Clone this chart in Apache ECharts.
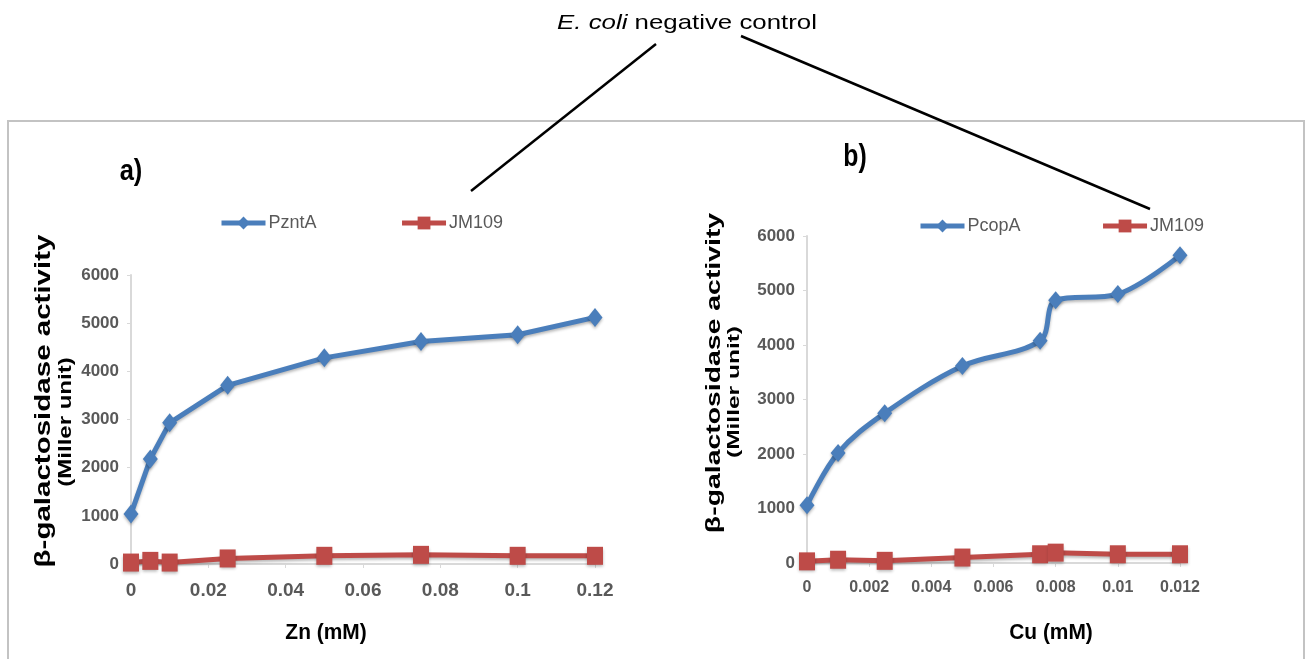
<!DOCTYPE html>
<html>
<head>
<meta charset="utf-8">
<script src="https://cdn.jsdelivr.net/npm/echarts@6/dist/echarts.min.js"></script>
<style>
  html, body { margin: 0; padding: 0; background: #ffffff; }
  #chart { width: 1311px; height: 659px; }
</style>
</head>
<body>
<div id="chart"></div>
<script>
// Zn series (panel a)
const znConc   = [0, 0.005, 0.01, 0.025, 0.05, 0.075, 0.1, 0.12];
const pzntA    = [1040, 2180, 2930, 3710, 4280, 4620, 4760, 5120];
const jm109Zn  = [30, 65, 30, 115, 170, 190, 170, 170];

// Cu series (panel b)
const cuConc   = [0, 0.001, 0.0025, 0.005, 0.0075, 0.008, 0.01, 0.012];
const pcopA    = [1060, 2020, 2750, 3615, 4080, 4820, 4935, 5645];
const jm109Cu  = [30, 60, 40, 100, 160, 190, 160, 160];

// Axis ranges / ticks
const yMax = 6000, yStep = 1000;
const znMax = 0.12, znStep = 0.02;
const cuMax = 0.012, cuStep = 0.002;

const pairs = (xs, ys) => xs.map((x, i) => [x, ys[i]]);

const BLUE = '#4A7EBB';
const RED = '#BE4B48';
const GREY = '#595959';
const AXIS = '#d9d9d9';
const SANS = '"Liberation Sans", Arial, sans-serif';

function xAxis(gridIndex, max, step, labelSize) {
  return {
    type: 'value', gridIndex, min: 0, max, interval: step,
    axisLine: { show: true, lineStyle: { color: AXIS, width: 2 } },
    axisTick: { show: true, length: 4, lineStyle: { color: AXIS, width: 1 } },
    splitLine: { show: false },
    axisLabel: { color: GREY, fontFamily: SANS, fontWeight: 'bold', fontSize: labelSize, margin: 17,
      formatter: v => String(+v.toFixed(4)) }
  };
}
function yAxis(gridIndex) {
  return {
    type: 'value', gridIndex, min: 0, max: yMax, interval: yStep,
    axisLine: { show: true, lineStyle: { color: AXIS, width: 2 } },
    axisTick: { show: true, length: 4, lineStyle: { color: AXIS, width: 1 } },
    splitLine: { show: false },
    axisLabel: { color: GREY, fontFamily: SANS, fontWeight: 'bold', fontSize: 17, margin: 12,
      formatter: v => String(v) }
  };
}
const shadow = { shadowColor: 'rgba(0,0,0,0.28)', shadowBlur: 3, shadowOffsetY: 2 };
function lineSeries(name, data, axisIdx, color, symbol, size, smooth) {
  return {
    name, type: 'line', xAxisIndex: axisIdx, yAxisIndex: axisIdx,
    data, smooth, symbol, symbolSize: size,
    lineStyle: Object.assign({ color, width: 5 }, shadow),
    itemStyle: Object.assign({ color, borderWidth: 0 }, shadow),
    emphasis: { disabled: true },
    z: color === BLUE ? 3 : 4
  };
}
function legend(left, top, names, gap) {
  return {
    left, top, padding: 0, orient: 'horizontal', itemGap: gap, itemWidth: 44, itemHeight: 16,
    data: names, selectedMode: false,
    lineStyle: { width: 5 },
    textStyle: { color: GREY, fontFamily: SANS, fontSize: 18, padding: [0, 0, 0, -2] }
  };
}
function rotatedText(text, x, y, size, squeeze) {
  return {
    type: 'text', x, y, rotation: Math.PI / 2, scaleY: squeeze,
    style: { text, fill: '#000', font: 'bold ' + size + 'px ' + SANS, textAlign: 'center', textVerticalAlign: 'middle' }
  };
}
function plainText(text, x, y, font, squeeze) {
  return {
    type: 'text', x, y, scaleX: squeeze || 1,
    style: { text, fill: '#000', font, textAlign: 'center', textVerticalAlign: 'middle' }
  };
}

const chart = echarts.init(document.getElementById('chart'), null, { renderer: 'canvas' });
chart.setOption({
  animation: false,
  backgroundColor: '#ffffff',
  grid: [
    { left: 131, top: 275, width: 464, height: 289 },
    { left: 807, top: 236, width: 373, height: 327 }
  ],
  xAxis: [
    xAxis(0, znMax, znStep, 19),
    xAxis(1, cuMax, cuStep, 16)
  ],
  yAxis: [yAxis(0), yAxis(1)],
  legend: [
    legend(219, 214, ['PzntA', { name: 'JM109' }], 83),
    legend(918, 217, ['PcopA', { name: 'JM109' }], 80)
  ],
  series: [
    lineSeries('PzntA', pairs(znConc, pzntA), 0, BLUE, 'diamond', [15, 19], false),
    lineSeries('JM109', pairs(znConc, jm109Zn), 0, RED, 'rect', [16, 18], false),
    lineSeries('PcopA', pairs(cuConc, pcopA), 1, BLUE, 'diamond', [15, 18], 0.35),
    lineSeries('JM109', pairs(cuConc, jm109Cu), 1, RED, 'rect', [16, 18], false)
  ],
  graphic: [
    // outer frame around both panels
    { type: 'rect', shape: { x: 8, y: 121, width: 1296, height: 560 },
      style: { fill: 'none', stroke: '#c3c3c3', lineWidth: 2 }, silent: true, z: -1 },
    // annotation pointing to the two control series
    { type: 'text', x: 687, y: 23, scaleX: 1.23,
      style: {
        text: '{i|E. coli} negative control', textAlign: 'center', textVerticalAlign: 'middle',
        font: '21px ' + SANS, fill: '#000',
        rich: { i: { fontStyle: 'italic', fontSize: 21, fontFamily: SANS, fill: '#000' } }
      } },
    { type: 'line', shape: { x1: 656, y1: 44, x2: 471, y2: 191 }, style: { stroke: '#000', lineWidth: 2.5 } },
    { type: 'line', shape: { x1: 741, y1: 36, x2: 1150, y2: 209 }, style: { stroke: '#000', lineWidth: 2.5 } },
    // panel labels
    plainText('a)', 131, 172, 'bold 30px ' + SANS, 0.85),
    plainText('b)', 855, 157, 'bold 31px ' + SANS, 0.8),
    // x-axis titles
    plainText('Zn (mM)', 326, 633, 'bold 22px ' + SANS, 0.95),
    plainText('Cu (mM)', 1051, 633, 'bold 22px ' + SANS, 0.95),
    // y-axis titles
    rotatedText('β-galactosidase activity', 44, 401, 29.5, 0.75),
    rotatedText('(Miller unit)', 66, 422, 24, 0.75),
    rotatedText('β-galactosidase activity', 715, 373, 28.4, 0.68),
    rotatedText('(Miller unit)', 734, 392, 24.5, 0.68)
  ]
});
</script>
</body>
</html>
